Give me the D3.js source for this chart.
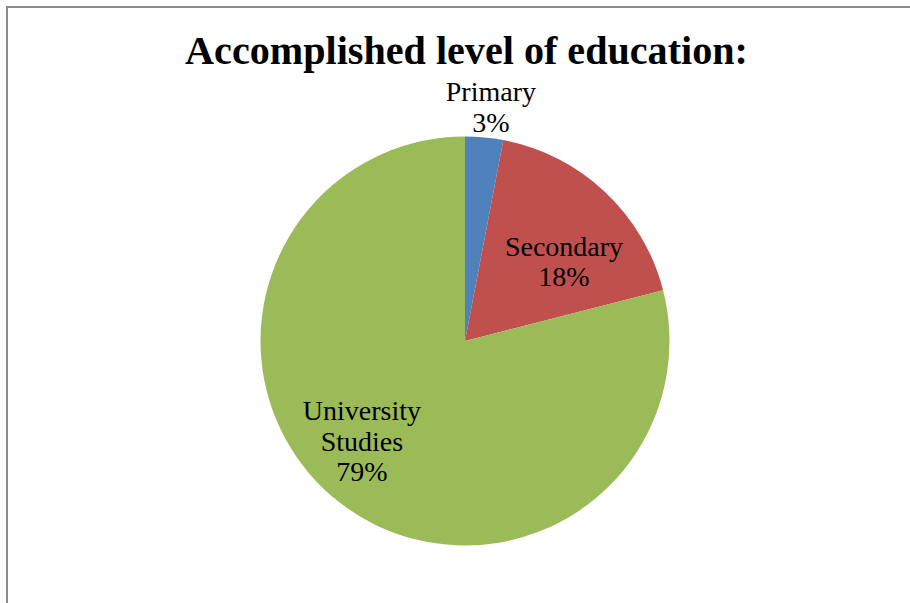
<!DOCTYPE html>
<html>
<head>
<meta charset="utf-8">
<script src="https://cdn.jsdelivr.net/npm/d3@7"></script>
<style>
  html, body { margin: 0; padding: 0; background: #fff; }
  svg { display: block; }
</style>
</head>
<body>
<svg id="chart" width="910" height="603"></svg>
<script>
// Share of respondents by highest completed education level
const categories = ["Primary", "Secondary", "University Studies"];
const values = [3, 18, 79];
const colors = ["#4F81BD", "#C0504D", "#9BBB59"];
const chartTitle = "Accomplished level of education:";

const svg = d3.select("#chart");
const W = 910, H = 603;

// Chart frame (extends past the right and bottom edges of the view)
svg.append("rect")
  .attr("x", 7).attr("y", 7)
  .attr("width", W + 20).attr("height", H + 20)
  .attr("fill", "#fff")
  .attr("stroke", "#8c8c8c")
  .attr("stroke-width", 2);

// Title
const title = svg.append("text")
  .attr("x", 466.5).attr("y", 64)
  .attr("text-anchor", "middle")
  .attr("font-family", "'Liberation Serif', 'DejaVu Serif', serif")
  .attr("font-weight", "bold")
  .attr("font-size", 38)
  .attr("fill", "#000")
  .text(chartTitle);
const tw = title.node().getComputedTextLength();
title.attr("font-size", 38 * 563 / tw);

// Pie
const cx = 465, cy = 341, R = 204.5;
const pie = d3.pie().sort(null).value(d => d.value);
const arcs = pie(categories.map((c, i) => ({ name: c, value: values[i], color: colors[i] })));
const arc = d3.arc().innerRadius(0).outerRadius(R);

const g = svg.append("g").attr("transform", `translate(${cx},${cy})`);
g.selectAll("path")
  .data(arcs)
  .join("path")
  .attr("d", arc)
  .attr("fill", d => d.data.color);

// Data labels: category name (wrapped) plus percentage
const labelPlacement = [
  { r: 1.111, shift: 0.020 },  // Primary: outside, above the slice
  { r: 0.595, shift: 0.196 },  // Secondary
  { r: 0.732, shift: 0.100 }   // University Studies
];
const lineH = 30.5;
const labelLines = d => {
  const words = d.data.name === "University Studies" ? ["University", "Studies"] : [d.data.name];
  return words.concat([d.data.value + "%"]);
};

arcs.forEach((d, i) => {
  const p = labelPlacement[i];
  const a = (d.startAngle + d.endAngle) / 2 + p.shift;
  const lx = Math.sin(a) * R * p.r;
  const ly = -Math.cos(a) * R * p.r;
  const lines = labelLines(d);
  const t = g.append("text")
    .attr("text-anchor", "middle")
    .attr("font-family", "'Liberation Serif', 'DejaVu Serif', serif")
    .attr("font-size", 28)
    .attr("fill", "#000");
  const top = ly - (lines.length - 1) * lineH / 2 + 1;
  lines.forEach((ln, k) => {
    t.append("tspan")
      .attr("x", lx)
      .attr("y", top + k * lineH)
      .text(ln);
  });
});
</script>
</body>
</html>
